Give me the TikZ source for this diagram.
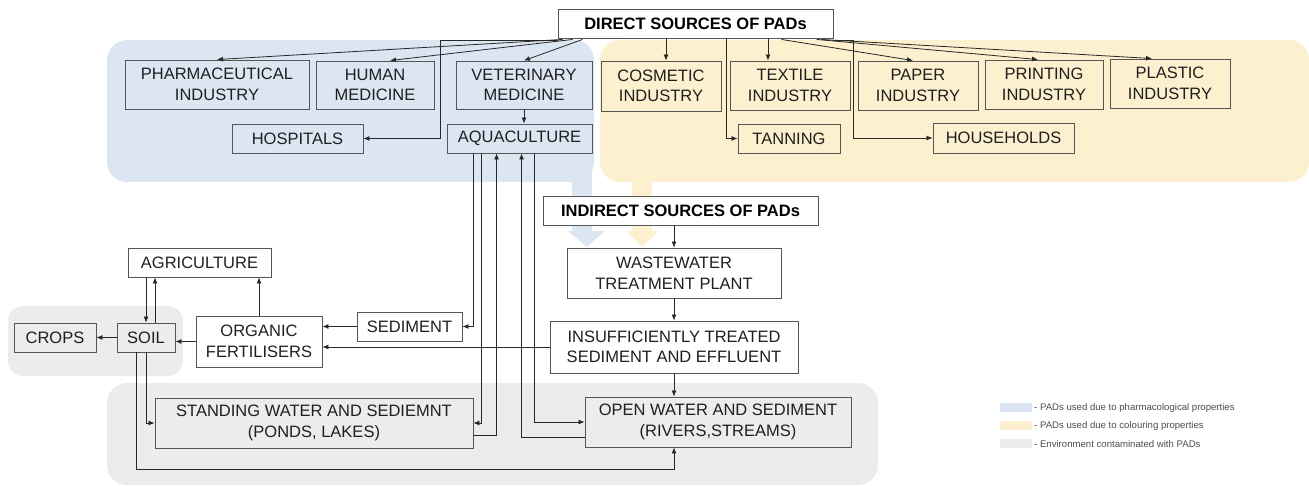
\documentclass[tikz,border=0pt]{standalone}
\usepackage{fontspec}
\setmainfont{Liberation Sans}
\usetikzlibrary{arrows.meta,calc}
\definecolor{bluereg}{RGB}{220,230,242}
\definecolor{yelreg}{RGB}{253,240,206}
\definecolor{grayreg}{RGB}{236,236,236}
\definecolor{boxline}{RGB}{85,85,85}
\definecolor{conn}{RGB}{40,40,40}
\newcommand\mybox[7]{\node[#6,minimum width={#4-#2},minimum height={#5-#3}] (#1) at ({(#2+#4)/2},{(#3+#5)/2}) {#7};}
\begin{document}
\begin{tikzpicture}[x=1pt,y=-1pt,
 box/.style={draw=boxline,line width=0.9pt,inner sep=0pt,align=center,font=\fontsize{16.5}{20.5}\selectfont,text=black!88},
 hbox/.style={box,font=\fontsize{16.5}{20.5}\selectfont\bfseries,text=black},
 arr/.style={draw=conn,line width=0.8pt,-{Latex[length=6pt,width=5pt]}},
 legtext/.style={anchor=west,inner sep=0pt,font=\fontsize{9.6}{11}\selectfont,text=black!70}]
\useasboundingbox (0,0) rectangle (1309,486);
% regions
\fill[bluereg,rounded corners=20pt] (107,40) rectangle (594,182);
\fill[bluereg] (572,160) rectangle (592,232);
\fill[bluereg] (568,231) -- (605,231) -- (587,247) -- cycle;
\fill[yelreg,rounded corners=20pt] (600,40) rectangle (1309,182);
\fill[yelreg] (632,160) rectangle (652,232);
\fill[yelreg] (626,231) -- (659,231) -- (642,247) -- cycle;
\fill[grayreg,rounded corners=15pt] (8,306) rectangle (183,376);
\fill[grayreg,rounded corners=20pt] (107,383) rectangle (878,485);
% legend
\fill[bluereg] (1000,403) rectangle (1032,412);
\fill[yelreg] (1000,421) rectangle (1032,430);
\fill[grayreg] (1000,439) rectangle (1032,448);
\node[legtext] (l1) at (1034,408) {- PADs used due to pharmacological properties};
\node[legtext] (l2) at (1034,426) {- PADs used due to colouring properties};
\node[legtext] (l3) at (1034,444) {- Environment contaminated with PADs};
% boxes
\mybox{direct}{558}{9}{833}{38}{hbox}{DIRECT SOURCES OF PADs}
\mybox{pharma}{125}{60}{309}{109}{box}{PHARMACEUTICAL\\INDUSTRY}
\mybox{human}{316}{61}{434}{109}{box}{HUMAN\\MEDICINE}
\mybox{vet}{456}{61}{592}{109}{box}{VETERINARY\\MEDICINE}
\mybox{hosp}{232}{124}{363}{153}{box}{HOSPITALS}
\mybox{aqua}{447}{124}{592}{153}{box}{AQUACULTURE}
\mybox{cosm}{601}{61}{721}{111}{box}{COSMETIC\\INDUSTRY}
\mybox{textile}{730}{61}{850}{110}{box}{TEXTILE\\INDUSTRY}
\mybox{paper}{858}{61}{978}{110}{box}{PAPER\\INDUSTRY}
\mybox{print}{985}{60}{1103}{109}{box}{PRINTING\\INDUSTRY}
\mybox{plast}{1110}{59}{1230}{108}{box}{PLASTIC\\INDUSTRY}
\mybox{tan}{738}{124}{840}{153}{box}{TANNING}
\mybox{hh}{933}{123}{1074}{153}{box}{HOUSEHOLDS}
\mybox{indirect}{543}{196}{818}{225}{hbox,fill=white}{INDIRECT SOURCES OF PADs}
\mybox{wwtp}{567}{248}{781}{298}{box}{WASTEWATER\\TREATMENT PLANT}
\mybox{insuf}{550}{321}{798}{373}{box}{INSUFFICIENTLY TREATED\\SEDIMENT AND EFFLUENT}
\mybox{ag}{128}{248}{271}{277}{box}{AGRICULTURE}
\mybox{soil}{117}{323}{175}{352}{box}{SOIL}
\mybox{crops}{14}{323}{96}{352}{box}{CROPS}
\mybox{org}{196}{316}{322}{367}{box}{ORGANIC\\FERTILISERS}
\mybox{sed}{357}{312}{462}{341}{box}{SEDIMENT}
\mybox{stand}{155}{398}{473}{448}{box}{STANDING WATER AND SEDIEMNT\\(PONDS, LAKES)}
\mybox{open}{585}{397}{851}{447}{box}{OPEN WATER AND SEDIMENT\\(RIVERS,STREAMS)}
% connectors from direct sources
\draw[arr] ([xshift=5pt,yshift=-1pt]direct.south west) -- (pharma.north);
\draw[arr] ([xshift=15pt,yshift=-1pt]direct.south west) -- ([xshift=15pt]human.north);
\draw[arr] ([xshift=25pt,yshift=-1pt]direct.south west) -- (vet.north);
\coordinate (hk) at (440,0);
\draw[arr] ([yshift=-1.5pt]direct.south west) -| (hk |- hosp.east) -- (hosp.east);
\draw[arr] ([xshift=5pt]cosm.north |- direct.south) -- ([xshift=5pt]cosm.north);
\draw[arr] ([xshift=-22pt]textile.north |- direct.south) -- ([xshift=-22pt]textile.north);
\draw[arr] ([xshift=169pt]direct.south west) |- (tan.west);
\coordinate (hk2) at (853,0);
\draw[arr] ([yshift=-1.5pt]direct.south east) -| (hk2 |- hh.west) -- (hh.west);
\draw[arr] ([xshift=224pt,yshift=-1pt]direct.south west) -- ([xshift=-5pt]paper.north);
\draw[arr] ([xshift=259pt,yshift=-1pt]direct.south west) -- ([xshift=-6pt]print.north);
\draw[arr] ([xshift=264pt,yshift=-1pt]direct.south west) -- ([xshift=-18pt]plast.north);
% veterinary / aquaculture
\draw[arr] (vet.south) -- (vet.south |- aqua.north);
\draw[arr] ([xshift=27pt]aqua.south west) |- (sed.east);
\draw[arr] ([xshift=35pt]aqua.south west) |- (stand.east);
\draw[arr] ([yshift=-12pt]stand.east) -| ([xshift=50pt]aqua.south west);
\draw[arr] ([yshift=-15pt]open.west) -| ([xshift=75pt]aqua.south west);
\draw[arr] ([xshift=88pt]aqua.south west) |- (open.west);
% indirect chain
\draw[arr] (wwtp.north |- indirect.south) -- (wwtp.north);
\draw[arr] (wwtp.south) -- (wwtp.south |- insuf.north);
\draw[arr] (insuf.south) -- (insuf.south |- open.north);
\draw[arr] (insuf.west) -- (insuf.west -| org.east);
\draw[arr] (sed.west) -- (sed.west -| org.east);
% agriculture / soil
\draw[arr] (org.north) -- (org.north |- ag.south);
\draw[arr] (soil.north |- ag.south) -- (soil.north);
\draw[arr] ([xshift=9pt]soil.north) -- ([xshift=9pt]soil.north |- ag.south);
\draw[arr] (org.west) -- (org.west -| soil.east);
\draw[arr] (soil.west) -- (crops.east);
\draw[arr] (soil.south) |- (stand.west);
\coordinate (lowy) at (0,469);
\draw[arr] ([xshift=-10pt]soil.south) |- (lowy -| insuf.south) -- (open.south -| insuf.south);
\end{tikzpicture}
\end{document}
